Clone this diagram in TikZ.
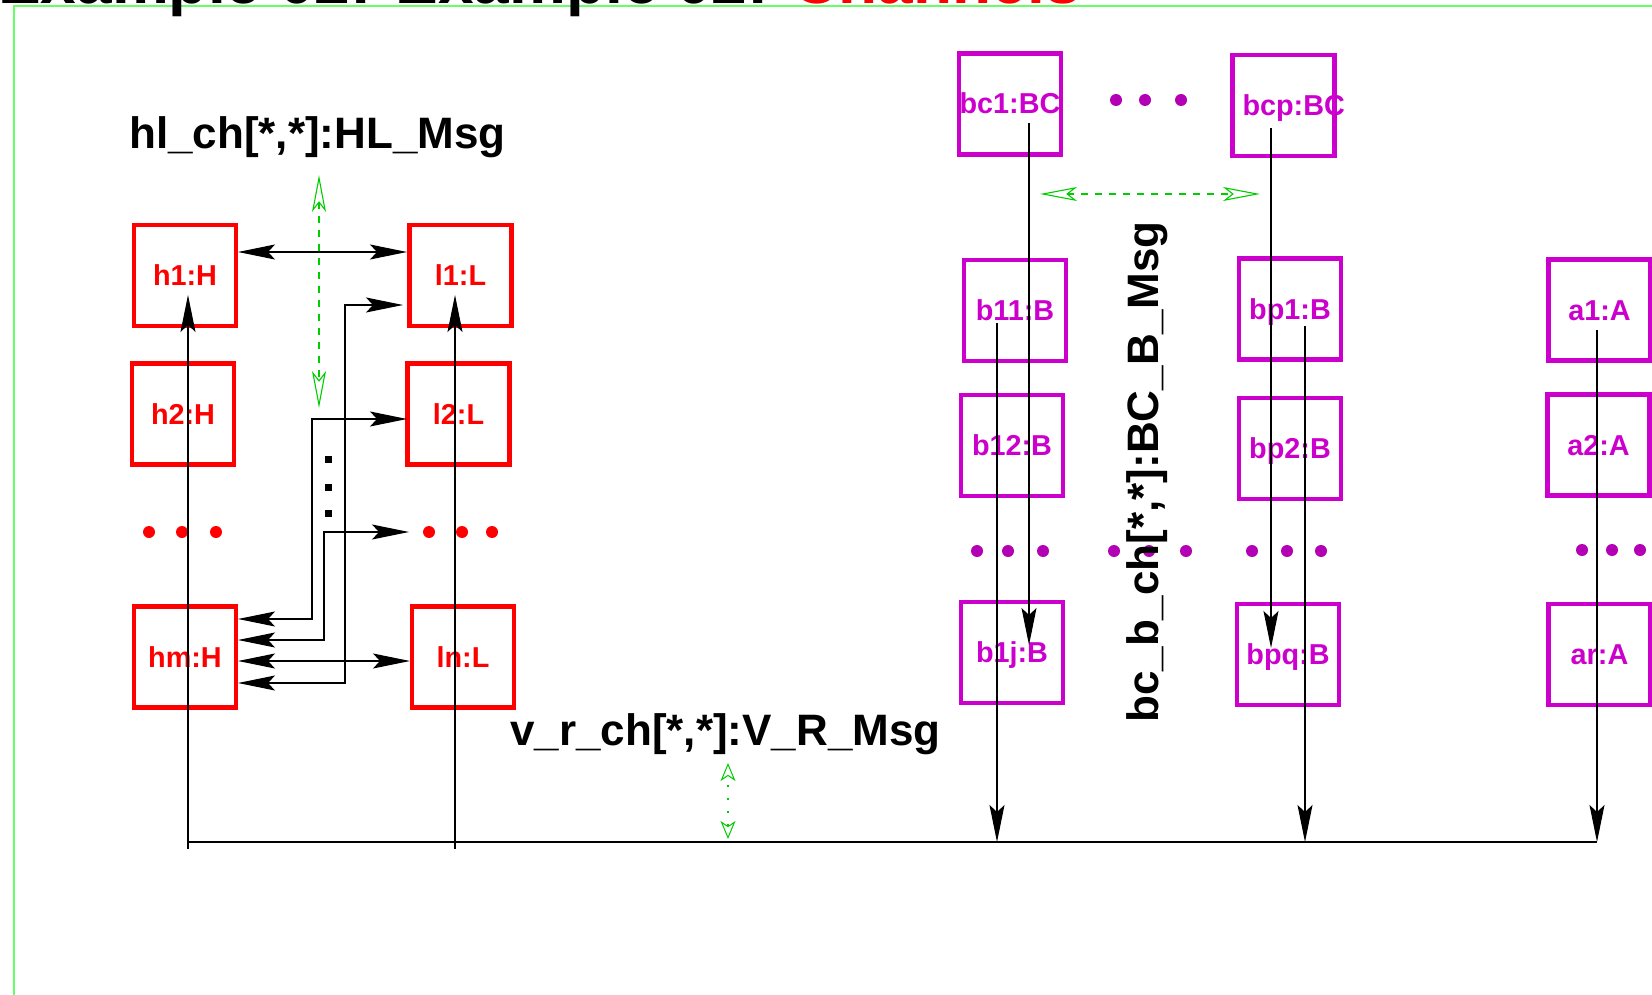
\documentclass[tikz,border=0pt]{standalone}
\usepackage{fontspec}
\setmainfont{Liberation Sans}
\usetikzlibrary{arrows.meta}
\definecolor{fred}{RGB}{255,0,0}
\definecolor{fmag}{RGB}{204,0,204}
\definecolor{fmagdot}{RGB}{180,0,180}
\definecolor{fgreen}{RGB}{0,205,0}
\definecolor{fgframe}{RGB}{102,255,102}
\begin{document}
\begin{tikzpicture}[x=1pt,y=-1pt,
  obj/.style={draw, line width=4.3pt, minimum width=102pt, minimum height=101pt, inner sep=0pt,
    text height=20pt, text depth=0pt, font=\fontsize{28.8}{30}\selectfont\bfseries},
  objR/.style={obj, draw=fred, text=fred},
  objM/.style={obj, draw=fmag, text=fmag},
  lbl/.style={inner sep=0pt, font=\fontsize{44}{50}\selectfont\bfseries, anchor=base west},
  conn/.style={line width=1.3pt, draw=black},
  onearr/.style={conn, -{Stealth[length=37pt,width=15pt,inset=7pt]}},
  biarr/.style={conn, {Stealth[length=37pt,width=15pt,inset=7pt]}-{Stealth[length=37pt,width=15pt,inset=7pt]}},
  gline/.style={draw=fgreen, line width=1.1pt,
    {Stealth[open,length=37pt,width=14pt,inset=9pt]}-{Stealth[open,length=37pt,width=14pt,inset=9pt]},
    dash pattern=on 7pt off 7pt},
  gdot/.style={draw=fgreen, line width=2pt,
    {Stealth[open,length=18pt,width=15pt,inset=5pt,line width=1pt]}-{Stealth[open,length=18pt,width=15pt,inset=5pt,line width=1pt]},
    dash pattern=on 2pt off 11pt, dash phase=4pt},
  dotR/.style={circle, fill=fred, inner sep=0pt, minimum size=12pt},
  dotM/.style={circle, fill=fmagdot, inner sep=0pt, minimum size=12pt},
  sqdot/.style={fill=black, inner sep=0pt, minimum size=7pt}
]
\useasboundingbox (0,0) rectangle (1652,995);

% frame and title
\coordinate (fr1) at (13.5,1005);
\coordinate (fr2) at (13.5,6);
\coordinate (fr3) at (1665,6);
\draw[fgframe, line width=2pt] (fr1) -- (fr2) -- (fr3);
\node[anchor=base west, inner sep=0pt, font=\fontsize{64}{70}\selectfont\bfseries] (title) at (-2,4)
  {Example 02: Example 02: \textcolor{fred}{Channels}};

% red boxes
\node[objR] (h1) at (185,275.5) {h1:H};
\node[objR] (h2) at (183,414) {h2:H};
\node[objR] (hm) at (185,657) {hm:H};
\node[objR] (l1) at (460.5,275.5) {l1:L};
\node[objR] (l2) at (458.5,414) {l2:L};
\node[objR] (ln) at (463,657) {ln:L};

% magenta boxes
\node[objM] (bc1) at (1010,104) {bc1:BC};
\node[objM, text width=102pt, align=center] (bcp) at (1283.5,105.5) {\hspace*{10pt}bcp:BC};
\node[objM] (b11) at (1015,310.5) {b11:B};
\node[objM] (bp1) at (1290,309) {bp1:B};
\node[objM] (b12) at (1012,445.5) {b12:B};
\node[objM] (bp2) at (1290,448.5) {bp2:B};
\node[objM] (b1j) at (1012,652.5) {b1j:B};
\node[objM] (bpq) at (1288,654.5) {bpq:B};
\node[objM] (a1) at (1599.5,310) {a1:A};
\node[objM] (a2) at (1598.5,445) {a2:A};
\node[objM] (ar) at (1599.5,654.5) {ar:A};

% dots
\node[dotR] (rd1) at (149,532) {};
\node[dotR] (rd2) at (182,532) {};
\node[dotR] (rd3) at (216,532) {};
\node[dotR] (rd4) at (429,532) {};
\node[dotR] (rd5) at (462,532) {};
\node[dotR] (rd6) at (492,532) {};
\node[dotM] (md1) at (1116,100) {};
\node[dotM] (md2) at (1145,100) {};
\node[dotM] (md3) at (1181,100) {};
\node[dotM] (md4) at (977,551) {};
\node[dotM] (md5) at (1008,551) {};
\node[dotM] (md6) at (1043,551) {};
\node[dotM] (md7) at (1114,551) {};
\node[dotM] (md8) at (1149,551) {};
\node[dotM] (md9) at (1186,551) {};
\node[dotM] (md10) at (1252,551) {};
\node[dotM] (md11) at (1287,551) {};
\node[dotM] (md12) at (1321,551) {};
\node[dotM] (md13) at (1582,550) {};
\node[dotM] (md14) at (1612,550) {};
\node[dotM] (md15) at (1640,550) {};
\node[sqdot] (sq1) at (328,459) {};
\node[sqdot] (sq2) at (328,487) {};
\node[sqdot] (sq3) at (328,513) {};

% labels
\node[lbl] (hllbl) at (129,149) {hl\_ch[*,*]:HL\_Msg};
\node[lbl] (vrlbl) at (510,745) {v\_r\_ch[*,*]:V\_R\_Msg};
\node[lbl, rotate=90] (bclbl) at (1158,723) {bc\_b\_ch[*,*]:BC\_B\_Msg};

% vertical lifelines
\coordinate (hbot) at (188,849);
\coordinate (htop) at (188,295);
\coordinate (lbot) at (455,849);
\coordinate (ltop) at (455,295);
\draw[onearr] (hbot) -- (htop);
\draw[onearr] (lbot) -- (ltop);
\coordinate (busL) at (188,842);
\coordinate (busR) at (1597,842);
\draw[conn] (busL) -- (busR);

\coordinate (b11s) at (997,323);
\coordinate (b11e) at (997,842);
\draw[onearr] (b11s) -- (b11e);
\coordinate (bp1s) at (1305,326);
\coordinate (bp1e) at (1305,842);
\draw[onearr] (bp1s) -- (bp1e);
\coordinate (a1s) at (1597,330);
\coordinate (a1e) at (1597,842);
\draw[onearr] (a1s) -- (a1e);
\coordinate (bc1s) at (1029,123);
\coordinate (bc1e) at (1029,645);
\draw[onearr] (bc1s) -- (bc1e);
\coordinate (bcps) at (1271,128);
\coordinate (bcpe) at (1271,648);
\draw[onearr] (bcps) -- (bcpe);

% H-L connectors
\coordinate (h1R) at (238,252);
\coordinate (l1L) at (407,252);
\draw[biarr] (h1R) -- (l1L);
\coordinate (hmA) at (238,683);
\coordinate (l1B) at (403,305);
\draw[biarr] (hmA) -- ++(107,0) |- (l1B);
\coordinate (hmB) at (238,619);
\coordinate (l2L) at (407,419);
\draw[biarr] (hmB) -- ++(74,0) |- (l2L);
\coordinate (hmC) at (238,640);
\coordinate (rdL) at (409,532);
\draw[biarr] (hmC) -- ++(86,0) |- (rdL);
\coordinate (hmD) at (238,661);
\coordinate (lnL) at (410,661);
\draw[biarr] (hmD) -- (lnL);

% green channel markers
\coordinate (g1a) at (319,175);
\coordinate (g1b) at (319,408);
\draw[gline] (g1a) -- (g1b);
\coordinate (g2a) at (1040,194);
\coordinate (g2b) at (1260,194);
\draw[gline] (g2a) -- (g2b);
\coordinate (g3a) at (728,763);
\coordinate (g3b) at (728,839);
\draw[gdot] (g3a) -- (g3b);
\end{tikzpicture}
\end{document}
